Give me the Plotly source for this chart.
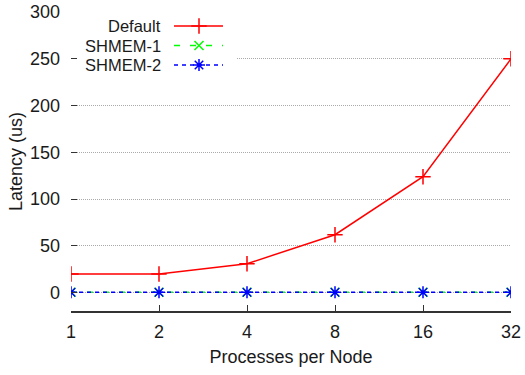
import plotly.graph_objects as go

procs = [1, 2, 4, 8, 16, 32]
tick_labels = ["1", "2", "4", "8", "16", "32"]
default_lat = [20, 20, 31, 62, 124, 250]
shmem1_lat = [0.5, 0.5, 0.5, 0.5, 0.5, 0.5]
shmem2_lat = [0.5, 0.5, 0.5, 0.5, 0.5, 0.5]
series_names = ["Default", "SHMEM-1", "SHMEM-2"]

FONT = "Liberation Sans, Arial, Helvetica, sans-serif"
FS = 18
LEG_FS = 16.5
RED, GREEN, BLUE = "#ff0000", "#00ff00", "#0000ff"

fig = go.Figure()
styles = [
    dict(color=RED, dash="solid", symbol="cross-thin", size=11),
    dict(color=GREEN, dash="6px,10px", symbol="x-thin", size=9),
    dict(color=BLUE, dash="4px,4px", symbol="asterisk", size=10),
]
for name, vals, st in zip(series_names, [default_lat, shmem1_lat, shmem2_lat], styles):
    fig.add_trace(go.Scatter(
        x=procs, y=vals, mode="lines+markers", name=name, showlegend=False,
        line=dict(color=st["color"], width=1.5, dash=st["dash"]),
        marker=dict(symbol=st["symbol"], size=st["size"], color=st["color"],
                    line=dict(color=st["color"], width=1.5)),
    ))

# white legend box masking the grid (gnuplot-style key), on the overlay pixel axis
fig.add_trace(go.Scatter(
    x=[71, 236, 236, 71, 71], y=[15, 15, 75, 75, 15], mode="lines", fill="toself",
    fillcolor="white", line=dict(width=0, color="white"), xaxis="x2", yaxis="y2",
    showlegend=False, hoverinfo="skip"))

# custom gnuplot-style legend (text left, sample at right)
leg_y = [26, 45.5, 65]
for name, st, ly in zip(series_names, styles, leg_y):
    fig.add_trace(go.Scatter(
        x=[174, 223], y=[ly, ly], mode="lines", xaxis="x2", yaxis="y2", showlegend=False,
        line=dict(color=st["color"], width=1.5, dash=st["dash"]), hoverinfo="skip"))
    fig.add_trace(go.Scatter(
        x=[199], y=[ly], mode="markers", xaxis="x2", yaxis="y2", showlegend=False,
        marker=dict(symbol=st["symbol"], size=st["size"], color=st["color"],
                    line=dict(color=st["color"], width=1.5)), hoverinfo="skip"))
    fig.add_annotation(x=163, y=ly, xref="x2", yref="y2", text=name, showarrow=False,
                       xanchor="right", yanchor="middle",
                       font=dict(family=FONT, size=LEG_FS, color="#1a1a1a"))

fig.update_layout(
    width=525, height=375,
    margin=dict(l=71, r=14, t=12, b=64, autoexpand=False),
    paper_bgcolor="white", plot_bgcolor="white",
    font=dict(family=FONT, size=FS, color="#1a1a1a"),
    xaxis=dict(
        type="log", range=[0, 1.50515], tickvals=procs, ticktext=tick_labels,
        showgrid=False, zeroline=False, showline=True, linecolor="#333", linewidth=1.5,
        ticks="inside", ticklen=6, tickcolor="#333", ticklabelstandoff=4,
        automargin=False,
        title=dict(text="Processes per Node", font=dict(size=FS), standoff=9),
    ),
    yaxis=dict(
        range=[-19.5, 300], tickvals=[0, 50, 100, 150, 200, 250, 300],
        showgrid=True, gridcolor="#aaaaaa", griddash="1px,1px", gridwidth=1,
        zeroline=False, showline=False,
        ticks="inside", ticklen=6, tickcolor="#333", ticklabelstandoff=10,
        automargin=False,
        title=dict(text="Latency (us)", font=dict(size=FS), standoff=2),
    ),
    xaxis2=dict(range=[71, 511], overlaying="x", visible=False, anchor="y2", automargin=False),
    yaxis2=dict(range=[311, 12], overlaying="y", visible=False, anchor="x2", automargin=False),
)

fig.write_html("out.html")
